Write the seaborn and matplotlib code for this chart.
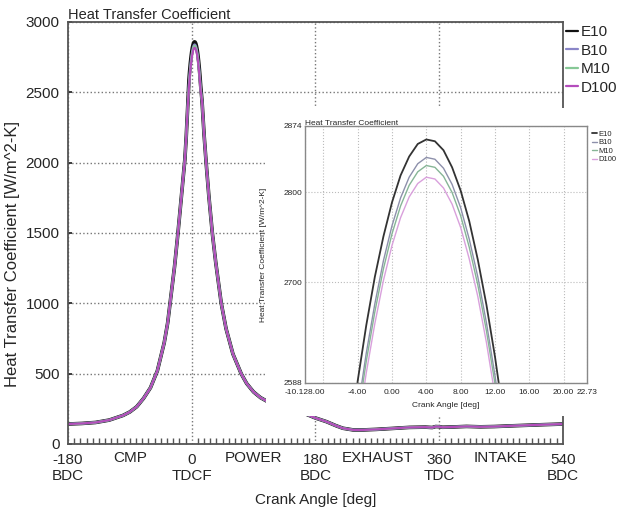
import numpy as np
import pandas as pd
import matplotlib
matplotlib.use('Agg')
import matplotlib.pyplot as plt
from matplotlib.ticker import MultipleLocator
from matplotlib.patches import Rectangle
import seaborn as sns

# crank angle data
fuels = ['E10', 'B10', 'M10', 'D100']

# shared wings of the cycle (compression side / expansion + gas exchange side)
angle_left = [-180, -160, -140, -120, -100, -90, -80, -70, -60, -50, -40,
              -35, -30, -25, -20, -15, -10, -8, -6]
htc_left = [142, 146, 153, 170, 203, 228, 265, 325, 400, 520, 720,
            860, 1060, 1260, 1500, 1760, 2020, 2180, 2380]

angle_right = [15, 18, 21, 25, 30, 35, 43, 50, 60, 72, 80, 90, 100, 108,
               120, 140, 160, 167, 180, 196, 210, 220, 235, 250, 269, 290,
               317, 340, 350, 355, 360, 365, 380, 400, 420, 440, 460, 487,
               510, 540]
htc_right = [2440, 2200, 2000, 1760, 1500, 1290, 1000, 820, 640, 500, 430,
             370, 330, 308, 280, 250, 222, 211, 185, 159, 130, 112, 100, 100,
             104, 110, 118, 120, 117, 124, 123, 119, 121, 125, 122, 124, 128,
             133, 137, 142]

# peak region, per fuel
angle_peak = [-4, -3, -2, -1, 0, 1, 2, 3, 4, 5, 6, 7, 8, 9, 10, 11, 12, 13]
htc_e10 = [2590, 2652, 2706, 2751, 2789, 2819, 2840, 2854, 2859, 2857, 2847,
           2828, 2802, 2768, 2725, 2675, 2617, 2550]
htc_b10 = [2557, 2621, 2676, 2724, 2763, 2794, 2817, 2832, 2839, 2837, 2827,
           2809, 2783, 2748, 2706, 2655, 2596, 2529]
htc_m10 = [2548, 2612, 2667, 2715, 2754, 2785, 2808, 2823, 2830, 2828, 2818,
           2800, 2774, 2739, 2697, 2646, 2587, 2520]
htc_d100 = [2535, 2599, 2654, 2702, 2741, 2772, 2795, 2810, 2817, 2815, 2805,
            2787, 2761, 2726, 2684, 2633, 2574, 2507]
peaks = {'E10': htc_e10, 'B10': htc_b10, 'M10': htc_m10, 'D100': htc_d100}

xtick_pos = [-180, 0, 180, 360, 540]
xtick_lab = ['-180\nBDC', '0\nTDCF', '180\nBDC', '360\nTDC', '540\nBDC']
phase_pos = [-90, 90, 270, 450]
phase_lab = ['CMP', 'POWER', 'EXHAUST', 'INTAKE']

inset_xticks = [-10.128, -4, 0, 4, 8, 12, 16, 20, 22.73]
inset_xlab = ['-10.128.00', '-4.00', '0.00', '4.00', '8.00', '12.00',
              '16.00', '20.00', '22.73']
inset_yticks = [2588, 2700, 2800, 2874]

rows = []
for f in fuels:
    a = angle_left + angle_peak + angle_right
    v = htc_left + peaks[f] + htc_right
    rows.append(pd.DataFrame({'angle': a, 'htc': v, 'fuel': f}))
df = pd.concat(rows, ignore_index=True)

sns.set_theme(style='white')
plt.rcParams['font.family'] = ['Liberation Sans', 'DejaVu Sans']

main_colors = {'E10': '#111111', 'B10': '#8a86c8', 'M10': '#86c896', 'D100': '#b44cbc'}
main_lw = {'E10': 2.6, 'B10': 1.8, 'M10': 1.6, 'D100': 1.5}
inset_colors = {'E10': '#333333', 'B10': '#8d90ab', 'M10': '#86b596', 'D100': '#d9a0dc'}

fig = plt.figure(figsize=(6.2, 5.14), dpi=100)
ax = fig.add_axes([0.1097, 0.1362, 0.798, 0.821])

for f in fuels:
    sns.lineplot(data=df[df['fuel'] == f], x='angle', y='htc', ax=ax,
                 color=main_colors[f], lw=main_lw[f], label=f,
                 sort=False, estimator=None)

ax.set_xlim(-180, 540)
ax.set_ylim(0, 3000)
ax.set_xticks(xtick_pos)
ax.set_xticklabels(xtick_lab, fontsize=11)
ax.xaxis.set_minor_locator(MultipleLocator(9))
ax.set_yticks([0, 500, 1000, 1500, 2000, 2500, 3000])
ax.tick_params(axis='y', labelsize=11, direction='in', length=3, left=True,
               pad=6)
ax.tick_params(axis='x', which='major', length=0, pad=6.5)
ax.tick_params(axis='x', which='minor', direction='in', length=4, bottom=True,
               color='#555555')
for x, t in zip(phase_pos, phase_lab):
    ax.text(x, -0.016, t, transform=ax.get_xaxis_transform(), ha='center',
            va='top', fontsize=11)
ax.grid(True, which='major', linestyle=':', color='#777777', lw=1)
ax.set_xlabel('Crank Angle [deg]', fontsize=11, labelpad=7)
ax.set_ylabel('Heat Transfer Coefficient [W/m^2-K]', fontsize=12)
ax.yaxis.set_label_coords(-0.097, 0.45)
ax.set_title('Heat Transfer Coefficient', loc='left', fontsize=10.5, pad=2)
for s in ax.spines.values():
    s.set_color('#555555')
    s.set_linewidth(1.3)

leg = ax.legend(loc='upper left', bbox_to_anchor=(1.0, 1.0), frameon=False,
                fontsize=11, handlelength=0.8, handletextpad=0.2,
                labelspacing=0.3, borderaxespad=0.2, borderpad=0)
for h in leg.get_lines():
    h.set_linewidth(1.6)

# white area that the zoomed inset sits on
fig.add_artist(Rectangle((0.429, 0.1907), 0.571, 0.599, transform=fig.transFigure,
                         facecolor='white', edgecolor='none', zorder=5))

ins = fig.add_axes([0.492, 0.2549, 0.455, 0.5])
ins.set_zorder(6)
for f in fuels:
    sns.lineplot(data=df[df['fuel'] == f], x='angle', y='htc', ax=ins,
                 color=inset_colors[f], lw=1.3 if f == 'E10' else 1.0,
                 label=f, sort=False, estimator=None)
ins.set_xlim(-10.128, 22.73)
ins.set_ylim(2588, 2874)
ins.set_xticks(inset_xticks)
ins.set_xticklabels(inset_xlab, fontsize=6)
ins.set_yticks(inset_yticks)
ins.set_yticklabels([str(v) for v in inset_yticks], fontsize=6)
ins.xaxis.set_minor_locator(MultipleLocator(4))
ins.tick_params(length=0)
ins.tick_params(axis='x', pad=4)
ins.tick_params(axis='y', pad=2)
ins.grid(True, which='both', axis='x', linestyle=':', color='#bbbbbb', lw=0.8)
ins.grid(True, axis='y', linestyle=':', color='#bbbbbb', lw=0.8)
ins.set_xlabel('Crank Angle [deg]', fontsize=6, labelpad=5)
ins.set_ylabel('Heat Transfer Coefficient [W/m^2-K]', fontsize=6)
ins.yaxis.set_label_coords(-0.135, 0.5)
ins.set_title('Heat Transfer Coefficient', loc='left', fontsize=6, pad=1)
for s in ins.spines.values():
    s.set_color('#888888')
    s.set_linewidth(1.0)
ileg = ins.legend(loc='upper left', bbox_to_anchor=(1.0, 1.0), frameon=False,
                  fontsize=5.5, handlelength=0.7, handletextpad=0.2,
                  labelspacing=0.15, borderaxespad=0.2)

fig.savefig('out.png', dpi=100)
